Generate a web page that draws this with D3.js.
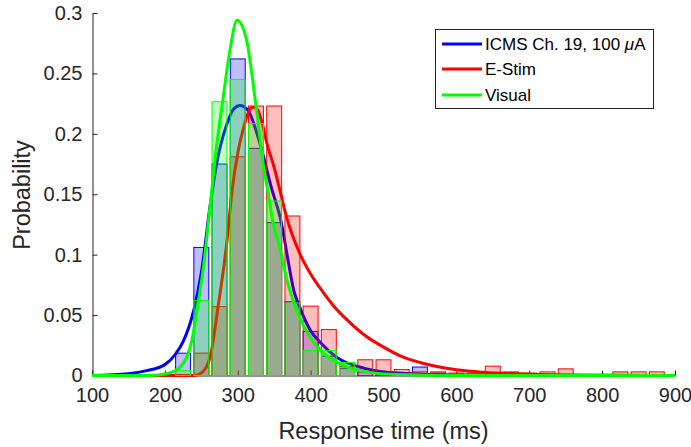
<!DOCTYPE html>
<html><head><meta charset="utf-8">
<script src="https://cdn.jsdelivr.net/npm/d3@7"></script>
<style>body{margin:0;background:#fff}svg{display:block}text{font-family:"Liberation Sans",Arial,Helvetica,sans-serif}</style>
</head><body><svg id="c" width="691" height="447"></svg>
<script>
// ---- data ----
const binCenters = [200,225,250,275,300,325,350,375,400,425,450,475,500,525,550,575,600,625,650,675,700,725,750,775,800,825,850,875];
const icmsBars   = [0,0.0185,0.106,0.175,0.262,0.188,0.1265,0.061,0.0365,0.016,0.006,0.003,0.003,0.002,0.007,0.002,0,0,0,0,0,0,0,0,0,0,0,0];
const estimBars  = [0,0,0.0185,0.057,0.181,0.223,0.223,0.132,0.0574,0.038,0.0075,0.013,0.013,0.005,0.003,0.003,0.002,0.002,0.0077,0.003,0.002,0.003,0.0055,0,0,0.003,0.003,0.003];
const visualBars = [0,0.004,0.062,0.2265,0.245,0.2085,0.1444,0.06,0.0207,0.0207,0.0108,0,0,0,0,0,0,0,0,0,0,0,0,0,0,0,0,0];

const icmsFitX = [100,150,175,200,215,225,240,250,262,270,285,295,303,314,325,335,345,360,370,377,385,400,413,436,477,520,600,900];
const icmsFitY = [0,0.0015,0.004,0.009,0.018,0.028,0.055,0.085,0.14,0.172,0.208,0.221,0.2235,0.2195,0.203,0.182,0.158,0.126,0.092,0.07,0.0566,0.037,0.0276,0.015,0.0055,0.002,0.0004,0];
const estimFitX = [100,240,250,262,273,285,292,300,308,314,320,326,333,340,350,358,367,385,400,417,431,450,477,500,522,550,575,600,637,700,800,900];
const estimFitY = [0,0,0.002,0.015,0.057,0.11,0.152,0.184,0.205,0.217,0.222,0.221,0.21,0.192,0.172,0.153,0.131,0.101,0.084,0.069,0.058,0.046,0.032,0.0235,0.0165,0.0108,0.0072,0.0048,0.0027,0.001,0.0002,0];
const visualFitX = [100,180,202,221,237,244,253,262,270,280,289,299,312,324,335,344,348,358,367,376,385,399,413,440,477,520,600,900];
const visualFitY = [0,0,0.0014,0.007,0.029,0.054,0.09,0.14,0.185,0.23,0.268,0.294,0.278,0.228,0.175,0.143,0.128,0.105,0.08,0.062,0.048,0.032,0.021,0.0097,0.003,0.0008,0,0];

const seriesNames = ["ICMS Ch. 19, 100 ", "E-Stim", "Visual"];
const seriesColors = ["#0000ff", "#ff0000", "#00ff00"];
const xTicks = [100,200,300,400,500,600,700,800,900];
const yTicks = [0,0.05,0.1,0.15,0.2,0.25,0.3];
const yTickLabels = ["0","0.05","0.1","0.15","0.2","0.25","0.3"];

// ---- chart ----
const svg = d3.select("#c");
const x = d3.scaleLinear().domain([100,900]).range([92,675]);
const y = d3.scaleLinear().domain([0,0.3]).range([375.5,13]);
const axisColor = "#262626";

// axes (drawn below data)
const gx = svg.append("g").attr("transform","translate(0,375.5)")
  .call(d3.axisBottom(x).tickValues(xTicks).tickSizeInner(-5).tickSizeOuter(0).tickPadding(12).tickFormat(d3.format("d")));
const gy = svg.append("g").attr("transform","translate(92.5,0)")
  .call(d3.axisLeft(y).tickValues(yTicks).tickSizeInner(-5).tickSizeOuter(0).tickPadding(10).tickFormat((d,i)=>yTickLabels[i]));
[gx,gy].forEach(g=>{
  g.selectAll("path,line").attr("stroke",axisColor);
  g.selectAll("text").attr("fill",axisColor).style("font-size","20px").style("font-family","'Liberation Sans',Arial,sans-serif");
});

const barsData = [icmsBars, estimBars, visualBars];
const fitsX = [icmsFitX, estimFitX, visualFitX];
const fitsY = [icmsFitY, estimFitY, visualFitY];
const halfW = 10.25;
const line = d3.line().x(d=>x(d[0])).y(d=>y(d[1])).curve(d3.curveMonotoneX);

for (let s=0; s<3; s++) {
  const col = seriesColors[s];
  const bd = binCenters.map((c,i)=>({c, v:barsData[s][i]})).filter(d=>d.v>0);
  svg.append("g").selectAll("rect").data(bd).join("rect")
    .attr("x", d=>x(d.c-halfW))
    .attr("width", d=>x(d.c+halfW)-x(d.c-halfW))
    .attr("y", d=>y(d.v))
    .attr("height", d=>y(0)-y(d.v))
    .attr("fill", col).attr("fill-opacity",0.25)
    .attr("stroke", col).attr("stroke-width",1);
  const pts = fitsX[s].map((vx,i)=>[vx, fitsY[s][i]]);
  svg.append("path").attr("d", line(pts)).attr("fill","none")
    .attr("stroke", col).attr("stroke-width",3).attr("stroke-linejoin","round");
}

// axis labels
svg.append("text").attr("x",383.5).attr("y",439).attr("text-anchor","middle")
  .attr("fill",axisColor).style("font-size","23.5px").text("Response time (ms)");
svg.append("text").attr("transform","translate(30,195) rotate(-90)").attr("text-anchor","middle")
  .attr("fill",axisColor).style("font-size","23.5px").text("Probability");

// legend
const lg = svg.append("g");
lg.append("rect").attr("x",435.5).attr("y",29.5).attr("width",218).attr("height",79)
  .attr("fill","#fff").attr("stroke",axisColor).attr("stroke-width",1);
const rowsY = [44,69,95];
for (let s=0; s<3; s++) {
  lg.append("line").attr("x1",442).attr("x2",482).attr("y1",rowsY[s]).attr("y2",rowsY[s])
    .attr("stroke",seriesColors[s]).attr("stroke-width",3);
  const t = lg.append("text").attr("x",485).attr("y",rowsY[s]+6).attr("fill","#000").style("font-size","17px").text(seriesNames[s]);
  if (s===0) { t.append("tspan").style("font-style","italic").text("\u03bc"); t.append("tspan").text("A"); }
}
</script></body></html>
